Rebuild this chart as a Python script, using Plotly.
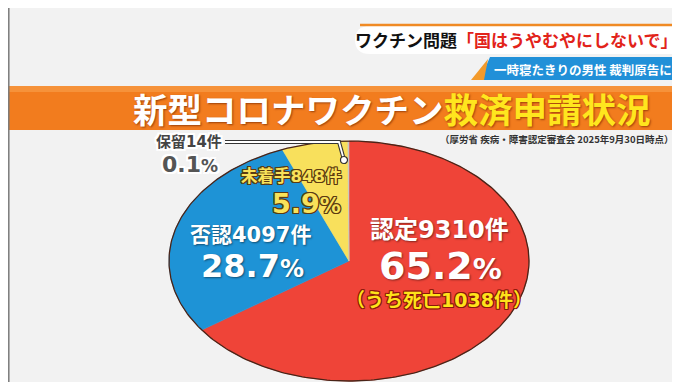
import numpy as np
import plotly.graph_objects as go

# ---------------- data ----------------
categories = ["認定", "否認", "未着手", "保留"]
counts = [9310, 4097, 848, 14]
percents = [65.2, 28.7, 5.9, 0.1]
deaths_among_approved = 1038
title_white = "新型コロナワクチン"
title_yellow = "救済申請状況"
headline_black = "ワクチン問題"
headline_red = "「国はうやむやにしないで」"
subheadline = "一時寝たきりの男性 裁判原告に"
source_note = "（厚労省 疾病・障害認定審査会 2025年9月30日時点）"

# ---------------- style ----------------
slice_colors = ["#ef4438", "#1e93d6", "#f8e05c", "#c8c8c8"]
W, H = 680, 382
CX, CY, RX, RY = 341, 253, 180, 120
CJK = "Noto Sans CJK JP"
DIG = "DejaVu Sans, Noto Sans CJK JP"

fig = go.Figure()

# pie slices drawn as an elliptical (tilted) pie, clockwise from 12 o'clock
total = sum(counts)
start = 90.0
for cat, n, col in zip(categories, counts, slice_colors):
    sweep = 360.0 * n / total
    t = np.radians(np.linspace(start, start - sweep, max(int(sweep * 2), 2)))
    xs = np.concatenate([[CX], CX + RX * np.cos(t), [CX]])
    ys = np.concatenate([[CY], CY - RY * np.sin(t), [CY]])
    fig.add_trace(go.Scatter(x=xs, y=ys, fill="toself", fillcolor=col, mode="lines",
                             line=dict(color=col, width=0.6), hoverinfo="skip",
                             showlegend=False, name=cat))
    start -= sweep

# pie outline
t = np.radians(np.linspace(0, 360, 361))
fig.add_trace(go.Scatter(x=CX + RX * np.cos(t), y=CY - RY * np.sin(t), mode="lines",
                         line=dict(color="#4a2418", width=1.3), hoverinfo="skip",
                         showlegend=False))

shapes = []
# left border
shapes.append(dict(type="line", xref="x", yref="y", x0=0.8, x1=0.8, y0=0, y1=H,
                   line=dict(color="#7a7a7a", width=1.5)))
# headline white banner with orange top line
shapes.append(dict(type="path", xref="x", yref="y",
                   path="M 362 18 L 681 18 L 681 46 L 362 46 Q 347 46 347 32 Q 347 18 362 18 Z",
                   fillcolor="#ffffff", line=dict(width=0)))
shapes.append(dict(type="line", xref="x", yref="y", x0=352, x1=681, y0=17, y1=17,
                   line=dict(color="#f08a24", width=2.5)))
# sub-headline blue banner + orange triangle
shapes.append(dict(type="path", xref="x", yref="y",
                   path="M 482 49 L 672 49 L 672 72 L 472 72 Z",
                   fillcolor="#2190d8", line=dict(width=0)))
shapes.append(dict(type="path", xref="x", yref="y",
                   path="M 463 72 L 480 51 L 476 72 Z",
                   fillcolor="#f39a2b", line=dict(width=0)))
# orange title band
shapes.append(dict(type="rect", xref="x", yref="y", x0=0, x1=W, y0=78, y1=122,
                   fillcolor="#f27c1e", line=dict(width=0), layer="below"))
shapes.append(dict(type="rect", xref="x", yref="y", x0=0, x1=W, y0=78, y1=84,
                   fillcolor="#f6923a", line=dict(width=0), layer="below"))

# leader line for the tiny 保留 slice
shapes.append(dict(type="path", xref="x", yref="y", path="M 217 134 L 331 134 L 336 152",
                   line=dict(color="#333333", width=4)))
shapes.append(dict(type="path", xref="x", yref="y", path="M 217 134 L 331 134 L 336 152",
                   line=dict(color="#ffffff", width=1.8)))
shapes.append(dict(type="circle", xref="x", yref="y", x0=332.5, x1=339.5, y0=148.5, y1=155.5,
                   fillcolor="#ffffff", line=dict(color="#333333", width=1.2)))

anns = []


def outline(c, w=1):
    return ", ".join(f"{dx}px {dy}px 0 {c}" for dx in (-w, 0, w) for dy in (-w, 0, w)
                     if not (dx == 0 and dy == 0))


def add(text, x, y, size, color, family=DIG, shadow="none", anchor="center"):
    anns.append(dict(text=text, x=x, y=y, xref="x", yref="y", showarrow=False,
                     xanchor=anchor, yanchor="middle", borderpad=0,
                     font=dict(family=family, size=size, color=color, weight="bold",
                               shadow=shadow)))


def pct(p, small):
    return f"{p}<span style='font-size:{small}px'>%</span>"


# headline texts
add(f"<span style='color:#111111'>{headline_black}</span>"
    f"<span style='color:#e2231a'>{headline_red}</span>",
    508, 31.5, 17, "#111111", family=CJK)
add(subheadline, 575, 61, 12.5, "#ffffff", family=CJK)
add(f"<span style='color:#ffffff'>{title_white}</span>"
    f"<span style='color:#ffe61e'>{title_yellow}</span>",
    384, 100, 34.5, "#ffffff", family=CJK, shadow="1px 1px 2px rgba(120,40,0,0.7)")
add(source_note, 667, 131, 9.5, "#333333", family=CJK, anchor="right")

white_out = outline("#ffffff", 2)
brown_out = outline("#5b3a12", 1)
red_out = outline("#8a1a0a", 1)
soft = "1px 1px 2px rgba(0,0,0,0.45)"

# 保留
add(f"{categories[3]}{counts[3]}件", 215, 134, 15, "#444444", shadow=white_out, anchor="right")
add(pct(percents[3], 17), 211, 156, 22, "#555555", shadow=white_out, anchor="right")
# 未着手
add(f"{categories[2]}{counts[2]}件", 334, 168, 16.5, "#f8e25a", shadow=brown_out, anchor="right")
add(pct(percents[2], 21), 334, 195, 27, "#f8e25a", shadow=brown_out, anchor="right")
# 否認
add(f"{categories[1]}{counts[1]}件", 242, 227, 21, "#ffffff", shadow=soft)
add(pct(percents[1], 24), 244, 258, 32, "#ffffff", shadow=soft)
# 認定
add(f"{categories[0]}{counts[0]}件", 431, 222, 24, "#ffffff", shadow=soft)
add(pct(percents[0], 29), 432, 258, 38, "#ffffff", shadow=soft)
add(f"（うち死亡{deaths_among_approved}件）", 431, 292, 19, "#ffe31a", shadow=red_out)

fig.update_layout(
    width=W, height=H, margin=dict(l=0, r=0, t=0, b=0),
    paper_bgcolor="#f2f2f2", plot_bgcolor="#f2f2f2",
    xaxis=dict(range=[0, W], visible=False, fixedrange=True),
    yaxis=dict(range=[H, 0], visible=False, fixedrange=True),
    shapes=shapes, annotations=anns, showlegend=False,
)

fig.write_html("out.html", config={"displayModeBar": False})
